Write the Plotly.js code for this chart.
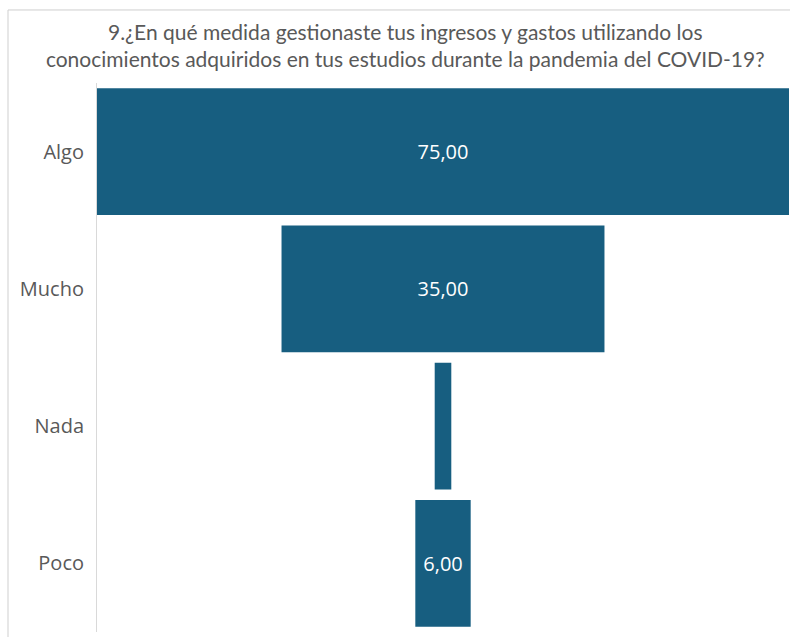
<!DOCTYPE html>
<html>
<head>
<meta charset="utf-8">
<script src="https://cdn.plot.ly/plotly-3.0.1.min.js"></script>
<style>html,body{margin:0;padding:0;background:#fff;}#chart{width:790px;height:637px;}</style>
</head>
<body>
<div id="chart"></div>
<script>
var categories = ["Algo", "Mucho", "Nada", "Poco"];
var values = [75, 35, 1.8, 6];
var labelText = ["75,00", "35,00", "", "6,00"];

var trace = {
  type: "funnel",
  y: categories,
  x: values,
  text: labelText,
  texttemplate: "%{text}",
  textposition: "inside",
  insidetextanchor: "middle",
  textfont: {family: "Open Sans, sans-serif", size: 20, color: "#ffffff"},
  marker: {color: "#175e80", line: {width: 0}},
  connector: {visible: false},
  hoverinfo: "x+y"
};

var layout = {
  width: 790, height: 637,
  margin: {l: 97, r: 1, t: 83, b: 5},
  paper_bgcolor: "#ffffff", plot_bgcolor: "#ffffff",
  separators: ",.",
  title: {
    text: "9.¿En qué medida gestionaste tus ingresos y gastos utilizando los<br>conocimientos adquiridos en tus estudios durante la pandemia del COVID-19?",
    font: {family: "Lato, sans-serif", size: 21, color: "#595959"},
    x: 0.513, xref: "container", xanchor: "center",
    y: 0.937, yanchor: "middle", yref: "container"
  },
  funnelgap: 0.075,
  xaxis: {range: [-37.5, 37.5], visible: false, fixedrange: true},
  yaxis: {
    showline: true, linecolor: "#d9d9d9", linewidth: 1,
    ticks: "", ticklabelstandoff: 8,
    tickfont: {family: "Open Sans, sans-serif", size: 20, color: "#595959"},
    showgrid: false
  },
  showlegend: false,
  shapes: [{
    type: "rect", xref: "paper", yref: "paper",
    x0: -0.1286, x1: 1.01, y0: -0.03, y1: 1.133,
    line: {color: "#cfcfcf", width: 1}, fillcolor: "rgba(0,0,0,0)", layer: "above"
  }]
};

Plotly.newPlot("chart", [trace], layout, {displayModeBar: false, staticPlot: true});
</script>
</body>
</html>
